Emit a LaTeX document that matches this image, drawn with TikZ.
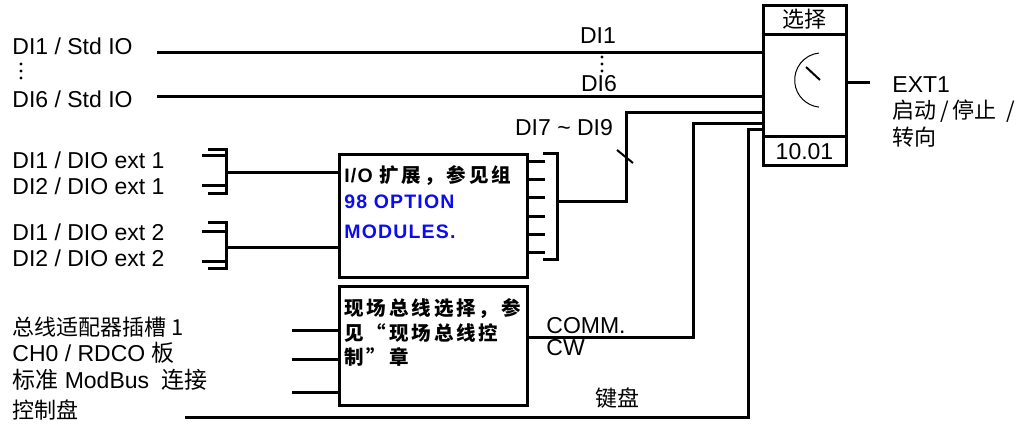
\documentclass[tikz,border=0pt]{standalone}
\usepackage{fontspec}
\setmainfont{Liberation Sans}
\newfontfamily\cjk{Noto Sans CJK SC}
\newfontfamily\cjkbox[LetterSpace=15]{Noto Sans CJK SC}
\newfontfamily\optfont[LetterSpace=6]{Liberation Sans}
\usepackage{tikz}
\usetikzlibrary{positioning}
\definecolor{opt-blue}{RGB}{12,12,240}
\tikzset{
  sig-line/.style={draw=black, line width=1.5pt},
  unit-box/.style={draw=black, line width=1.5pt, fill=white, inner sep=0pt},
  sig-label/.style={font=\fontsize{11.5}{13}\selectfont, inner sep=0pt},
  cjk-label/.style={font=\fontsize{11}{13}\cjk, inner sep=0pt},
  box-text/.style={font=\fontsize{9.75}{12}\cjkbox\bfseries, inner sep=0pt, align=left, anchor=west},
  dot-mark/.style={fill=black, radius=0.8pt}
}

\begin{document}
\begin{tikzpicture}[x=0.5pt, y=-0.5pt]
  \useasboundingbox (0,0) rectangle (1027,423);

  % Selector box
  \node[unit-box, minimum width=41.5pt, minimum height=80pt] (sel) at (804.5,85) {};
  \draw[sig-line] ([yshift=-15.5pt]sel.north west) -- ([yshift=-15.5pt]sel.north east);
  \draw[sig-line] ([yshift=15pt]sel.south west) -- ([yshift=15pt]sel.south east);
  \node[cjk-label] (sel-title) at ([yshift=-8pt]sel.north) {选择};
  \node[sig-label] (sel-num) at ([yshift=7.5pt]sel.south) {10.01};
  % dial
  \draw[line width=0.5pt] (819,53) arc[start angle=96, end angle=264, radius=13.6pt];
  \draw[line width=1pt] (806,67) -- (820,80);

  % Output
  \coordinate (ext1-out) at (870,82);
  \draw[sig-line] (ext1-out -| sel.east) -- (ext1-out);
  \node[sig-label, anchor=west] (ext1-a) at (892,85) {EXT1};
  \node[cjk-label, anchor=west] (ext1-b) at (892,111) {启动\,/\,停止\ \ /};
  \node[cjk-label, anchor=west] (ext1-c) at (892,137) {转向};

  % Standard DI lines
  \node[sig-label, anchor=west] (std1) at (12,46) {DI1 / Std IO};
  \node[sig-label, anchor=west] (std6) at (12,99) {DI6 / Std IO};
  \foreach \y in {64,71,78}
    \fill[dot-mark] (21,\y) circle;
  \coordinate (std1-in) at (157,52);
  \coordinate (std6-in) at (157,96);
  \draw[sig-line] (std1-in) -- (std1-in -| sel.west);
  \draw[sig-line] (std6-in) -- (std6-in -| sel.west);
  \node[sig-label] (di1) at (598,36) {DI1};
  \node[sig-label] (di6) at (599,84) {DI6};
  \foreach \y in {57,64,71}
    \fill[dot-mark] (602,\y) circle;

  % I/O extension box
  \node[unit-box, minimum width=94pt, minimum height=61.5pt] (io) at (433,215.5) {};
  \node[box-text] (io-a) at (344,176) {\optfont I/O \cjkbox 扩展，参见组};
  \node[box-text, text=opt-blue, font=\fontsize{9.75}{12}\optfont\bfseries] (io-b) at (344,202) {98 OPTION};
  \node[box-text, text=opt-blue, font=\fontsize{9.75}{12}\optfont\bfseries] (io-c) at (344,232) {MODULES.};
  \foreach \y in {161,179,197,216,234,252}
    \draw[sig-line] (io.east |- 0,\y) -- ++(16,0);
  \draw[sig-line] (543,153) -- (557,153) -- (557,259) -- (543,259);
  \coordinate (io-bus) at (557,201);
  \coordinate (ext-turn) at (626,112);
  \draw[sig-line] (io-bus) -| (ext-turn) -- (ext-turn -| sel.west);
  \draw[line width=1pt] (617,150) -- (633,163);
  \node[sig-label] (di79) at (564,128) {DI7 \textasciitilde{} DI9};

  % DIO extension inputs
  \node[sig-label, anchor=west] (dio11) at (12,160) {DI1 / DIO ext 1};
  \node[sig-label, anchor=west] (dio21) at (12,186) {DI2 / DIO ext 1};
  \node[sig-label, anchor=west] (dio12) at (12,232) {DI1 / DIO ext 2};
  \node[sig-label, anchor=west] (dio22) at (12,258) {DI2 / DIO ext 2};
  \foreach \n/\yt/\ya/\yo/\yb/\yc in {1/149/155/172/185/193, 2/222/231/247/261/268} {
    \draw[sig-line] (208,\yt) -- (226,\yt) -- (226,\yc) -- (208,\yc);
    \draw[sig-line] (202,\ya) -- (226,\ya);
    \draw[sig-line] (202,\yb) -- (226,\yb);
    \coordinate (ext\n-bus) at (226,\yo);
    \draw[sig-line] (ext\n-bus) -- (ext\n-bus -| io.west);
  }

  % Fieldbus box
  \node[unit-box, minimum width=94pt, minimum height=59.5pt] (fb) at (433,345.5) {};
  \node[box-text] (fb-a) at (344,309) {现场总线选择，参};
  \node[box-text] (fb-b) at (344,333) {见“现场总线控};
  \node[box-text] (fb-c) at (344,357) {制”章};
  \node[cjk-label, anchor=west] (bus1) at (12,327) {总线适配器插槽 1};
  \node[sig-label, anchor=west] (bus2) at (12,353) {CH0 / RDCO {\cjk 板}};
  \node[sig-label, anchor=west] (bus3) at (12,380) {{\cjk 标准} ModBus\ \ {\cjk 连接}};
  \node[cjk-label, anchor=west] (pad) at (12,410) {控制盘};
  \foreach \y in {330,359,392}
    \draw[sig-line] (292,\y) -- (fb.west |- 0,\y);
  \coordinate (comm-turn) at (693,123);
  \draw[sig-line] (fb.east |- 0,337) -| (comm-turn) -- (comm-turn -| sel.west);
  \node[sig-label, anchor=west] (comm) at (546,326) {COMM.};
  \node[sig-label, anchor=west] (cw) at (546,348) {CW};

  % Keypad line
  \coordinate (pad-in) at (185,417);
  \coordinate (pad-turn) at (748,129);
  \draw[sig-line] (pad-in) -| (pad-turn) -- (pad-turn -| sel.west);
  \node[cjk-label] (pad-lbl) at (617,398) {键盘};
\end{tikzpicture}
\end{document}
